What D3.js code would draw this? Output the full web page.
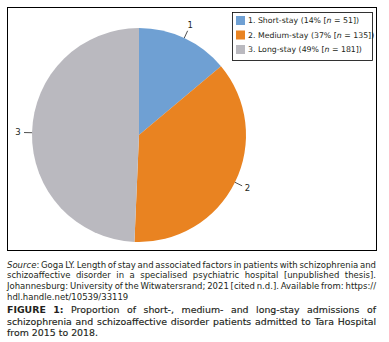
<!DOCTYPE html>
<meta charset="utf-8">
<style>
body { margin: 0; background: #fff; }
svg { display: block; font-family: "DejaVu Sans", Verdana, sans-serif; }
</style>
<svg width="389" height="342"></svg>
<script src="https://d3js.org/d3.v7.min.js"></script>
<script>

// data
var categories = ["Short-stay", "Medium-stay", "Long-stay"],
    counts = [51, 135, 181],
    percents = [14, 37, 49],
    colors = ["#6fa0d3", "#e98321", "#bab9bf"];

var sourceLines = [
  [["Source", "italic"], [": Goga LY. Length of stay and associated factors in patients with schizophrenia and"]],
  [["schizoaffective disorder in a specialised psychiatric hospital [unpublished thesis]."]],
  [["Johannesburg: University of the Witwatersrand; 2021 [cited n.d.]. Available from: https://"]],
  [["hdl.handle.net/10539/33119"]]
];
var captionLines = [
  [["FIGURE 1:", "bold"], [" Proportion of short-, medium- and long-stay admissions of"]],
  [["schizophrenia and schizoaffective disorder patients admitted to Tara Hospital"]],
  [["from 2015 to 2018."]]
];

var svg = d3.select("svg");
var frame = {x: 7, y: 7, w: 369, h: 243};

svg.append("rect")
    .attr("x", frame.x + 0.5).attr("y", frame.y + 0.5)
    .attr("width", frame.w).attr("height", frame.h)
    .attr("fill", "none").attr("stroke", "#000").attr("stroke-width", 1);

// pie
var cx = 139, cy = 135, r = 107;
var pie = d3.pie().sort(null).value(function(d) { return d; });
var arcs = pie(counts);
var arc = d3.arc().innerRadius(0).outerRadius(r);

var g = svg.append("g").attr("transform", "translate(" + cx + "," + cy + ")");

g.selectAll("path.slice")
  .data(arcs)
  .enter().append("path")
    .attr("class", "slice")
    .attr("d", arc)
    .attr("fill", function(d, i) { return colors[i]; });

function pt(a, rad) { return [Math.sin(a) * rad, -Math.cos(a) * rad]; }

arcs.forEach(function(d, i) {
  var a = (d.startAngle + d.endAngle) / 2;
  var p0 = pt(a, r), p1 = pt(a, r + 8), p2 = pt(a, r + 14);
  g.append("line")
      .attr("x1", p0[0]).attr("y1", p0[1])
      .attr("x2", p1[0]).attr("y2", p1[1])
      .attr("stroke", "#222").attr("stroke-width", 0.8);
  g.append("text")
      .attr("x", p2[0]).attr("y", p2[1])
      .attr("dy", "0.35em")
      .attr("text-anchor", "middle")
      .style("font-size", "8.5px")
      .attr("fill", "#231f20")
      .text(i + 1);
});

// legend
var legend = svg.append("g");
legend.append("rect")
    .attr("x", 232.5).attr("y", 12.5)
    .attr("width", 140).attr("height", 48)
    .attr("fill", "#fff").attr("stroke", "#000").attr("stroke-width", 0.8);

var ly = d3.scalePoint().domain(categories).range([20.5, 49.5]);

categories.forEach(function(c, i) {
  legend.append("rect")
      .attr("x", 236).attr("y", ly(c) - 4.5)
      .attr("width", 9).attr("height", 9)
      .attr("fill", colors[i]);
  var t = legend.append("text")
      .attr("x", 248).attr("y", ly(c))
      .attr("dy", "0.35em")
      .style("font-size", "7.8px")
      .attr("fill", "#231f20");
  t.append("tspan").text((i + 1) + ". " + c + " (" + percents[i] + "% [");
  t.append("tspan").style("font-style", "italic").text("n");
  t.append("tspan").text(" = " + counts[i] + "])");
});

// justified caption text
function block(lines, y0, lineH, size, color, stroke) {
  var left = frame.x, width = frame.w;
  lines.forEach(function(segs, li) {
    var words = [], cur = null;
    segs.forEach(function(s) {
      s[0].split(/( )/).forEach(function(p) {
        if (p === " ") { cur = null; return; }
        if (p === "") return;
        if (!cur) { cur = []; words.push(cur); }
        cur.push([p, s[1]]);
      });
    });
    var y = y0 + li * lineH;
    var els = words.map(function(w) {
      var t = svg.append("text").attr("y", y)
          .style("font-size", size + "px")
          .attr("fill", color);
      if (stroke) t.attr("stroke", color).attr("stroke-width", stroke);
      w.forEach(function(p) {
        var ts = t.append("tspan").text(p[0]);
        if (p[1] === "italic") ts.style("font-style", "italic");
        if (p[1] === "bold") ts.style("font-weight", "bold").attr("stroke-width", 0);
      });
      return t;
    });
    var widths = els.map(function(t) { return t.node().getComputedTextLength(); });
    var total = d3.sum(widths);
    var last = li === lines.length - 1;
    var gap = last || els.length < 2 ? size * 0.32 : (width - total) / (els.length - 1);
    var x = left;
    els.forEach(function(t, k) {
      t.attr("x", x);
      x += widths[k] + gap;
    });
  });
}

block(sourceLines, 267.5, 10.8, 8.5, "#231f20", 0);
block(captionLines, 313, 11.6, 9.4, "#231f20", 0.15);

</script>
